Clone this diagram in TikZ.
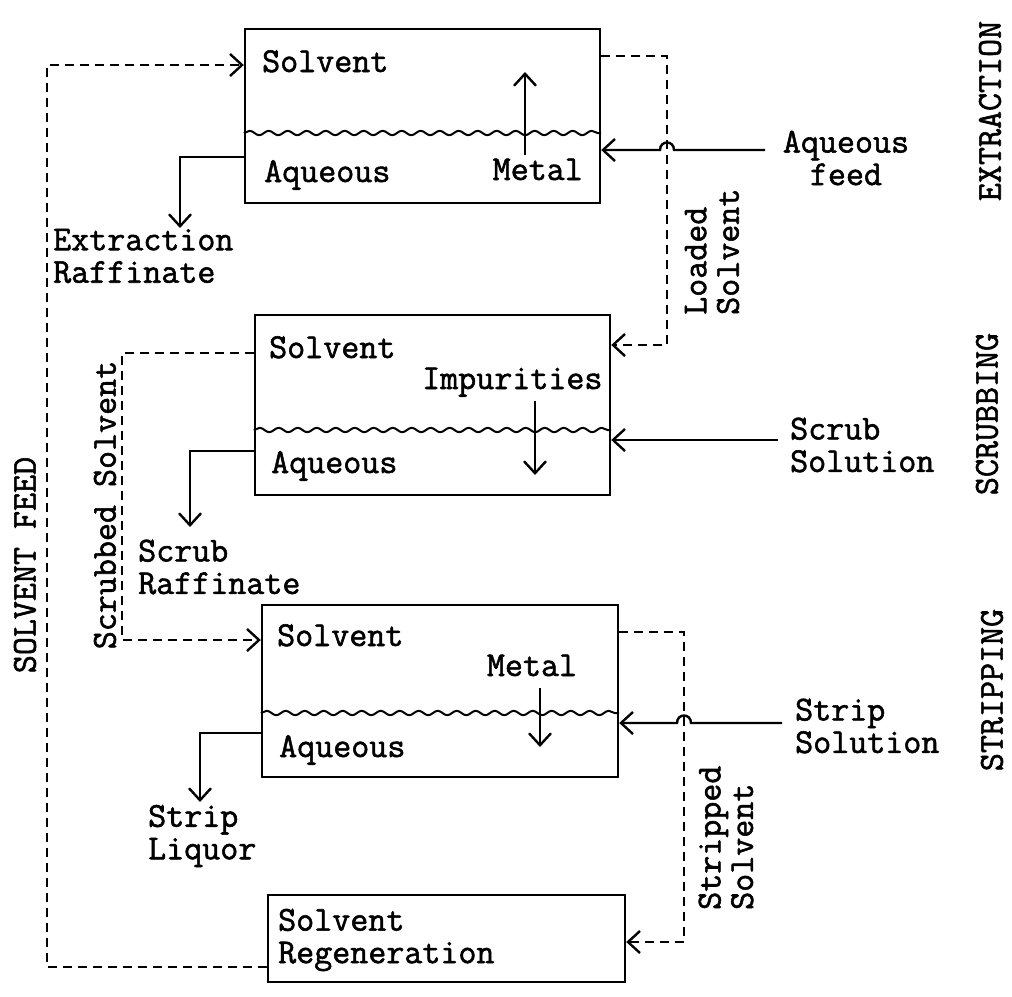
\documentclass[tikz,border=0pt]{standalone}
\usepackage{fontspec}
\setmainfont{Latin Modern Mono}[FakeBold=1.6]
\usetikzlibrary{arrows.meta,decorations.pathmorphing}
\begin{document}
\begin{tikzpicture}[x=1pt,y=-1pt,
  every node/.style={font=\fontsize{35}{32.5}\selectfont, inner sep=0pt},
  box/.style={draw, line width=2.4pt, inner sep=0pt},
  ln/.style={line width=2.4pt},
  dsh/.style={line width=2.4pt, dash pattern=on 9pt off 6pt},
  arr/.style={-{Straight Barb[length=12pt,width=22pt]}},
  wave/.style={line width=2pt, decorate, decoration={snake, amplitude=2.2pt, segment length=19pt}}
]
\useasboundingbox (0,0) rectangle (1012,996);

% boxes
\node[box, minimum width=355pt, minimum height=174pt] (b1) at (422.5,116) {};
\node[box, minimum width=355pt, minimum height=180pt] (b2) at (432.5,405) {};
\node[box, minimum width=356pt, minimum height=172pt] (b3) at (440,691) {};
\node[box, minimum width=357pt, minimum height=87pt] (b4) at (446.5,938.5) {};

% interfaces
\coordinate (w1) at (0,133);
\coordinate (w2) at (0,430);
\coordinate (w3) at (0,713);
\draw[wave] (b1.west |- w1) -- (b1.east |- w1);
\draw[wave] (b2.west |- w2) -- (b2.east |- w2);
\draw[wave] (b3.west |- w3) -- (b3.east |- w3);

% box texts
\node[anchor=base west] (t1s) at (262,72) {Solvent};
\node[anchor=base west] (t1a) at (264,182) {Aqueous};
\node[anchor=base east] (t1m) at (583,180) {Metal};
\node[anchor=base west] (t2s) at (269,358) {Solvent};
\node[anchor=base west] (t2i) at (422,389) {Impurities};
\node[anchor=base west] (t2a) at (271,473) {Aqueous};
\node[anchor=base west] (t3s) at (277,646) {Solvent};
\node[anchor=base] (t3m) at (532,676) {Metal};
\node[anchor=base west] (t3a) at (279,757) {Aqueous};
\node[anchor=west, align=left] (t4) at (278,940) {Solvent\\Regeneration};

% transfer arrows inside boxes
\coordinate (m1a) at (525,155); \coordinate (m1b) at (525,72);
\coordinate (m2a) at (535,401); \coordinate (m2b) at (535,475);
\coordinate (m3a) at (540,688); \coordinate (m3b) at (540,747);
\draw[ln,arr] (m1a) -- (m1b);
\draw[ln,arr] (m2a) -- (m2b);
\draw[ln,arr] (m3a) -- (m3b);

% outside labels
\node[anchor=west, align=left] (ter) at (53,256) {Extraction\\Raffinate};
\node[align=center] (taf) at (846,158) {Aqueous\\feed};
\node[anchor=west, align=left] (tss) at (790,445) {Scrub\\Solution};
\node[anchor=west, align=left] (tsr) at (138,567) {Scrub\\Raffinate};
\node[anchor=west, align=left] (tsp) at (795,726) {Strip\\Solution};
\node[anchor=west, align=left] (tsl) at (148,836) {Strip\\Liquor};
\node[rotate=90] (tsf) at (25,565) {SOLVENT FEED};
\node[rotate=90] (tsb) at (105,505) {Scrubbed Solvent};
\node[rotate=90, anchor=west, align=left] (tls) at (712,315) {Loaded\\Solvent};
\node[rotate=90, anchor=west, align=left] (tst) at (726,910) {Stripped\\Solvent};
\node[rotate=90] (tex) at (990,111) {EXTRACTION};
\node[rotate=90] (tsc) at (987,414) {SCRUBBING};
\node[rotate=90] (tsg) at (992,690) {STRIPPING};

% coordinates for connectors
\coordinate (fd1) at (47,967);
\coordinate (fd2) at (47,65);
\coordinate (er0) at (0,157); \coordinate (er1) at (180,157); \coordinate (er2) at (180,228);
\coordinate (ls0) at (0,56); \coordinate (ls1) at (667,56); \coordinate (ls2) at (667,345);
\coordinate (af0) at (765,150); \coordinate (afh1) at (674,150); \coordinate (afh2) at (660,150);
\coordinate (ss0) at (778,440);
\coordinate (sb0) at (0,353); \coordinate (sb1) at (122,353); \coordinate (sb2) at (122,640);
\coordinate (sr0) at (0,451); \coordinate (sr1) at (190,451); \coordinate (sr2) at (190,527);
\coordinate (sp0) at (782,723); \coordinate (sph1) at (691,723); \coordinate (sph2) at (677,723);
\coordinate (st0) at (0,632); \coordinate (st1) at (684,632); \coordinate (st2) at (684,942);
\coordinate (sl0) at (0,733); \coordinate (sl1) at (200,733); \coordinate (sl2) at (200,802);

% dashed solvent circuit
\draw[dsh,arr] (b4.west |- fd1) -- (fd1) -- (fd2) -- (b1.west |- fd2);
\draw[dsh,arr] (b1.east |- ls0) -- (ls1) -- (ls2) -- (b2.east |- ls2);
\draw[dsh,arr] (b2.west |- sb0) -- (sb1) -- (sb2) -- (b3.west |- sb2);
\draw[dsh,arr] (b3.east |- st0) -- (st1) -- (st2) -- (b4.east |- st2);

% solid aqueous streams
\draw[ln,arr] (af0) -- (afh1) .. controls (674,140) and (660,140) .. (afh2) -- (b1.east |- af0);
\draw[ln,arr] (ss0) -- (b2.east |- ss0);
\draw[ln,arr] (sp0) -- (sph1) .. controls (691,713) and (677,713) .. (sph2) -- (b3.east |- sp0);
\draw[ln,arr] (b1.west |- er0) -- (er1) -- (er2);
\draw[ln,arr] (b2.west |- sr0) -- (sr1) -- (sr2);
\draw[ln,arr] (b3.west |- sl0) -- (sl1) -- (sl2);
\end{tikzpicture}
\end{document}
